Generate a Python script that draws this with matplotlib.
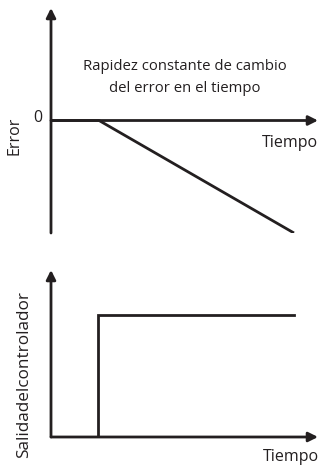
import matplotlib
matplotlib.use("Agg")
import matplotlib.pyplot as plt

# error signal: constant rate of change after step time
t_err = [0.0, 1.8, 9.1]
err = [0.0, 0.0, -1.0]
# controller output: step
t_out = [1.75, 1.75, 9.1]
out = [0.0, 0.73, 0.73]

plt.rcParams['font.family'] = ['Open Sans', 'DejaVu Sans']
W, H = 321, 466
fig = plt.figure(figsize=(W / 100, H / 100), dpi=100)
LW = 2.0
K = "#231f20"

def fx(px): return px / W
def fy(py): return 1 - py / H

def axis_arrows(ax, y0):
    ax.annotate("", xy=(1.0, y0), xytext=(0, y0), xycoords="axes fraction",
                arrowprops=dict(arrowstyle="-|>", color=K, lw=LW, mutation_scale=14,
                                shrinkA=0, shrinkB=0))
    ax.annotate("", xy=(0, 1.0), xytext=(0, 0), xycoords="axes fraction",
                arrowprops=dict(arrowstyle="-|>", color=K, lw=LW, mutation_scale=14,
                                shrinkA=0, shrinkB=0))

# top panel
ax1 = fig.add_axes([fx(51), fy(233), fx(267), 225 / H])
ax1.plot(t_err, err, color=K, lw=LW, solid_capstyle="butt")
ax1.set_xlim(0, 10); ax1.set_ylim(-1, 1)
ax1.axis("off")
axis_arrows(ax1, 0.5)

# bottom panel
ax2 = fig.add_axes([fx(51), fy(437), fx(267), 167 / H])
ax2.plot(t_out, out, color=K, lw=LW, solid_joinstyle="miter")
ax2.set_xlim(0, 10); ax2.set_ylim(0, 1)
ax2.axis("off")
axis_arrows(ax2, 0.0)

fs = 11.5
fig.text(fx(185), fy(67), "Rapidez constante de cambio", ha="center", va="center", fontsize=10.7, color=K)
fig.text(fx(185), fy(89), "del error en el tiempo", ha="center", va="center", fontsize=10.7, color=K)
fig.text(fx(38), fy(118), "0", ha="center", va="center", fontsize=fs, color=K)
fig.text(fx(15), fy(136), "Error", ha="center", va="center", rotation=90, fontsize=fs, color=K)
fig.text(fx(290), fy(143), "Tiempo", ha="center", va="center", fontsize=fs, color=K)
fig.text(fx(24), fy(374), "Salidadelcontrolador", ha="center", va="center", rotation=90, fontsize=12.3, color=K)
fig.text(fx(291), fy(457), "Tiempo", ha="center", va="center", fontsize=fs, color=K)

fig.savefig("out.png", dpi=100)
